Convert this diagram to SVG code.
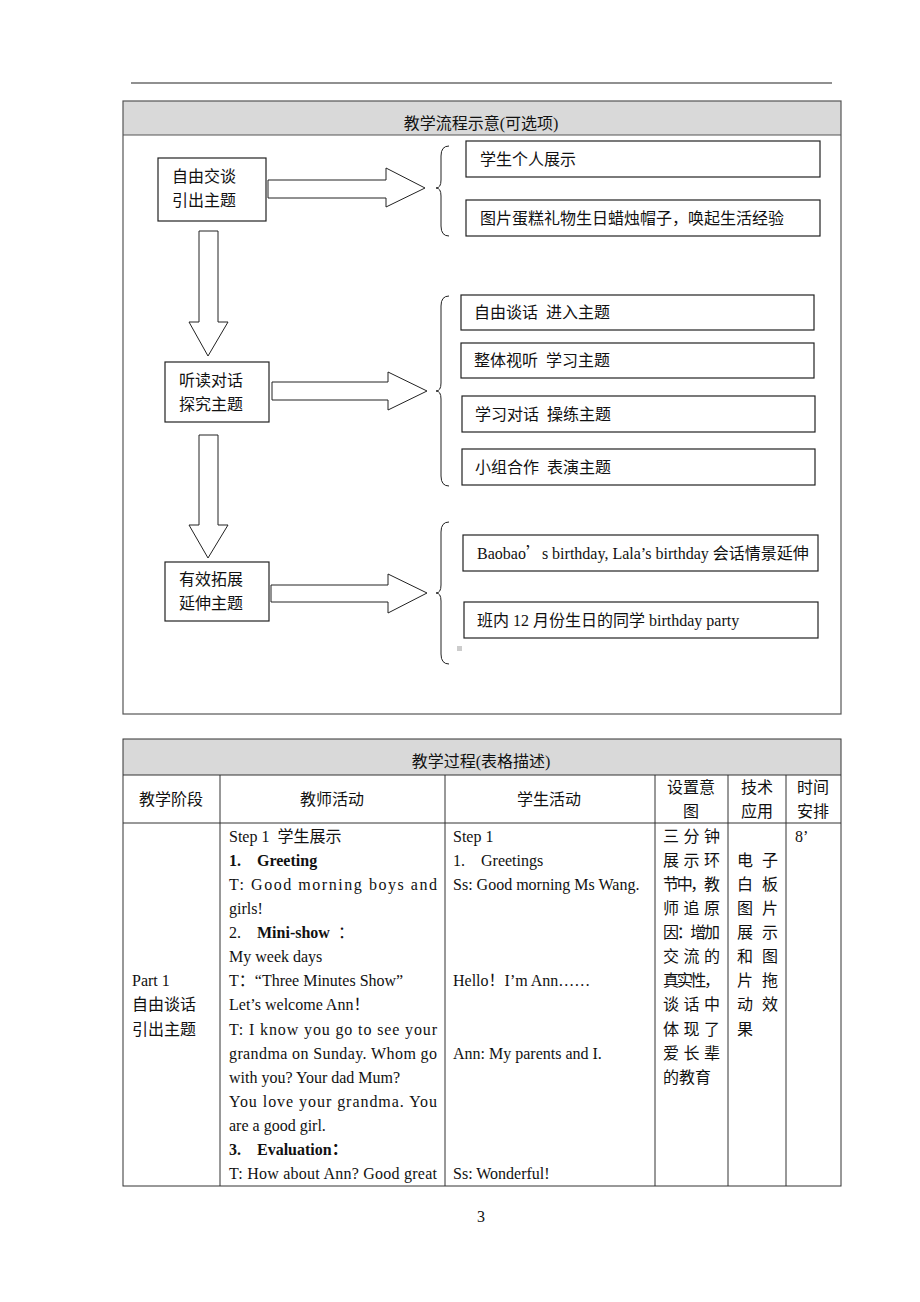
<svg xmlns="http://www.w3.org/2000/svg" width="920" height="1302" viewBox="0 0 920 1302">
<style>
text{font-family:"Liberation Serif","Noto Sans CJK SC",serif;font-size:16px;fill:#111}
.b{font-weight:bold}
.box{fill:#fff;stroke:#222;stroke-width:1.2}
.ar{fill:#fff;stroke:#222;stroke-width:1}
.br{fill:none;stroke:#222;stroke-width:1}
.grid{stroke:#333;stroke-width:1;fill:none}
.hd{fill:#d9d9d9}
.c{text-anchor:middle}
</style>
<rect width="920" height="1302" fill="#fff"/>
<line x1="131" y1="83" x2="832" y2="83" stroke="#222" stroke-width="1.2"/>

<g id="frame1">
<rect x="123" y="101" width="718" height="34" class="hd"/>
<rect x="123" y="101" width="718" height="613" fill="none" stroke="#555" stroke-width="1.2"/>
<line x1="123" y1="135" x2="841" y2="135" stroke="#555"/>
<text x="481" y="129" class="c">教学流程示意(可选项)</text>
</g>

<g id="connectors">
<polygon class="ar" points="268,180 386,180 386,168 425,188 386,207 386,198 268,198"/>
<polygon class="ar" points="272,382 388,382 388,372 427,391 388,410 388,400 272,400"/>
<polygon class="ar" points="271,585 388,585 388,574 427,593 388,613 388,602 271,602"/>
<polygon class="ar" points="199,231 218,231 218,322 228,322 208,356 189,322 199,322"/>
<polygon class="ar" points="199,435 218,435 218,525 228,525 208,558 189,525 199,525"/>
<path class="br" d="M449,146 Q441,146 441,156 L441,180 Q441,188 436,188 Q441,188 441,196 L441,226 Q441,236 449,236"/>
<path class="br" d="M449,296 Q441,296 441,306 L441,383 Q441,391 436,391 Q441,391 441,399 L441,476 Q441,486 449,486"/>
<path class="br" d="M449,522 Q441,522 441,532 L441,585 Q441,593 436,593 Q441,593 441,601 L441,654 Q441,664 449,664"/>
</g>

<g id="nodeA"><rect class="box" x="158" y="158" width="108" height="63"/><text x="172" y="182">自由交谈</text><text x="172" y="206">引出主题</text></g>
<g id="nodeB"><rect class="box" x="165" y="362" width="104" height="60"/><text x="179" y="386">听读对话</text><text x="179" y="410">探究主题</text></g>
<g id="nodeC"><rect class="box" x="165" y="562" width="104" height="59"/><text x="179" y="585">有效拓展</text><text x="179" y="609">延伸主题</text></g>

<g id="a1"><rect class="box" x="466" y="141" width="354" height="36"/><text x="480" y="165">学生个人展示</text></g>
<g id="a2"><rect class="box" x="466" y="200" width="354" height="36"/><text x="480" y="224">图片蛋糕礼物生日蜡烛帽子，唤起生活经验</text></g>
<g id="b1"><rect class="box" x="461" y="295" width="353" height="35"/><text x="474" y="318">自由谈话&#160;&#160;进入主题</text></g>
<g id="b2"><rect class="box" x="461" y="343" width="353" height="35"/><text x="474" y="366">整体视听&#160;&#160;学习主题</text></g>
<g id="b3"><rect class="box" x="462" y="396" width="353" height="36"/><text x="475" y="420">学习对话&#160;&#160;操练主题</text></g>
<g id="b4"><rect class="box" x="462" y="449" width="353" height="36"/><text x="475" y="473">小组合作&#160;&#160;表演主题</text></g>
<g id="c1"><rect class="box" x="463" y="535" width="355" height="36"/><text x="477" y="559">Baobao<tspan font-family="Noto Sans CJK SC">’</tspan>s birthday, Lala’s birthday 会话情景延伸</text></g>
<g id="c2"><rect class="box" x="464" y="602" width="354" height="36"/><text x="477" y="626">班内 12 月份生日的同学 birthday party</text></g>
<rect x="457" y="646" width="5" height="5" fill="#ccc"/>

<g id="table">
<rect x="123" y="739" width="718" height="36" class="hd"/>
<rect x="123" y="739" width="718" height="447" class="grid"/>
<line class="grid" x1="123" y1="775" x2="841" y2="775"/>
<line class="grid" x1="123" y1="823" x2="841" y2="823"/>
<line class="grid" x1="220" y1="775" x2="220" y2="1186"/>
<line class="grid" x1="445" y1="775" x2="445" y2="1186"/>
<line class="grid" x1="655" y1="775" x2="655" y2="1186"/>
<line class="grid" x1="728" y1="775" x2="728" y2="1186"/>
<line class="grid" x1="786" y1="775" x2="786" y2="1186"/>
<text x="481" y="767" class="c">教学过程(表格描述)</text>
<text x="171" y="805" class="c">教学阶段</text>
<text x="332" y="805" class="c">教师活动</text>
<text x="549" y="805" class="c">学生活动</text>
<text x="691" y="793" class="c">设置意</text><text x="691" y="817" class="c">图</text>
<text x="757" y="793" class="c">技术</text><text x="757" y="817" class="c">应用</text>
<text x="813" y="793" class="c">时间</text><text x="813" y="817" class="c">安排</text>
</g>

<g id="col-stage">
<text x="132" y="986">Part 1</text>
<text x="132" y="1010">自由谈话</text>
<text x="132" y="1035">引出主题</text>
</g>

<g id="col-teacher">
<text x="229" y="842">Step 1&#160;&#160;学生展示</text>
<text x="229" y="866" class="b">1.</text><text x="257" y="866" class="b">Greeting</text>
<text x="229" y="890" textLength="208" lengthAdjust="spacing">T: Good morning boys and</text>
<text x="229" y="914">girls!</text>
<text x="229" y="938">2.</text><text x="257" y="938" class="b">Mini-show</text><text x="338" y="938">：</text>
<text x="229" y="962">My week days</text>
<text x="229" y="986">T：“Three Minutes Show”</text>
<text x="229" y="1010">Let’s welcome Ann！</text>
<text x="229" y="1035" textLength="208" lengthAdjust="spacing">T: I know you go to see your</text>
<text x="229" y="1059" textLength="208" lengthAdjust="spacing">grandma on Sunday. Whom go</text>
<text x="229" y="1083">with you? Your dad Mum?</text>
<text x="229" y="1107" textLength="208" lengthAdjust="spacing">You love your grandma. You</text>
<text x="229" y="1131">are a good girl.</text>
<text x="229" y="1155" class="b">3.</text><text x="257" y="1155" class="b">Evaluation：</text>
<text x="229" y="1179" textLength="208" lengthAdjust="spacing">T: How about Ann? Good great</text>
</g>

<g id="col-student">
<text x="453" y="842">Step 1</text>
<text x="453" y="866">1.</text><text x="481" y="866">Greetings</text>
<text x="453" y="890">Ss: Good morning Ms Wang.</text>
<text x="453" y="986">Hello！I’m Ann……</text>
<text x="453" y="1059">Ann: My parents and I.</text>
<text x="453" y="1179">Ss: Wonderful!</text>
</g>

<g id="col-intent">
<text x="663" y="842" textLength="57" lengthAdjust="spacing">三分钟</text>
<text x="663" y="866" textLength="57" lengthAdjust="spacing">展示环</text>
<text x="663" y="890" textLength="57" lengthAdjust="spacing">节中，教</text>
<text x="663" y="914" textLength="57" lengthAdjust="spacing">师追原</text>
<text x="663" y="938" textLength="57" lengthAdjust="spacing">因：增加</text>
<text x="663" y="962" textLength="57" lengthAdjust="spacing">交流的</text>
<text x="663" y="986" textLength="57" lengthAdjust="spacing">真实性，</text>
<text x="663" y="1010" textLength="57" lengthAdjust="spacing">谈话中</text>
<text x="663" y="1035" textLength="57" lengthAdjust="spacing">体现了</text>
<text x="663" y="1059" textLength="57" lengthAdjust="spacing">爱长辈</text>
<text x="663" y="1083">的教育</text>
</g>

<g id="col-tech">
<text x="737" y="866" textLength="41" lengthAdjust="spacing">电子</text>
<text x="737" y="890" textLength="41" lengthAdjust="spacing">白板</text>
<text x="737" y="914" textLength="41" lengthAdjust="spacing">图片</text>
<text x="737" y="938" textLength="41" lengthAdjust="spacing">展示</text>
<text x="737" y="962" textLength="41" lengthAdjust="spacing">和图</text>
<text x="737" y="986" textLength="41" lengthAdjust="spacing">片拖</text>
<text x="737" y="1010" textLength="41" lengthAdjust="spacing">动效</text>
<text x="737" y="1035">果</text>
</g>

<g id="col-time"><text x="795" y="842">8’</text></g>

<text x="481" y="1222" class="c" font-size="14">3</text>
</svg>
